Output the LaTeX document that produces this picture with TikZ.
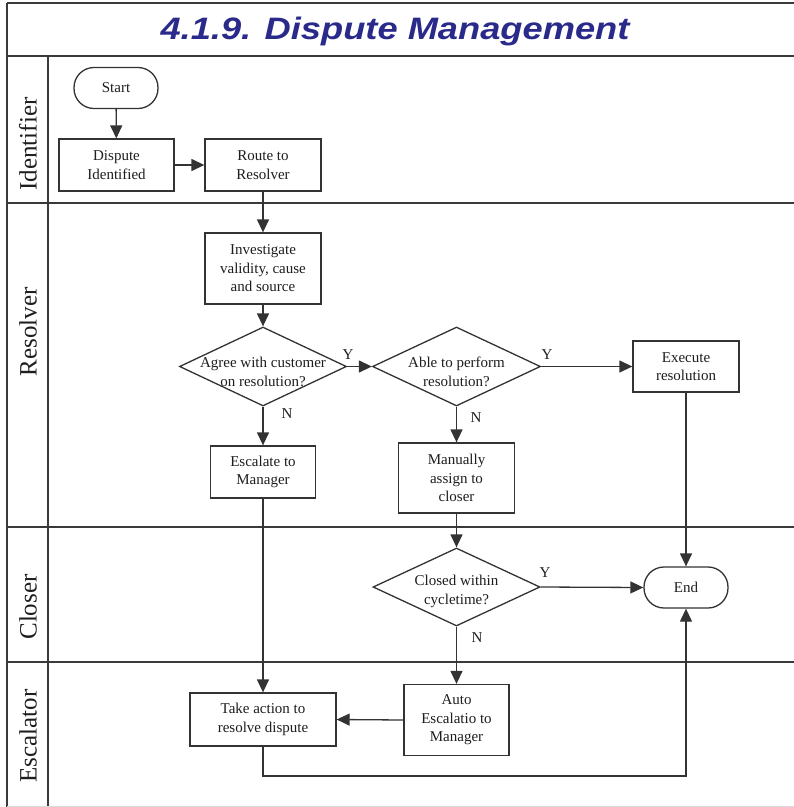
\documentclass[tikz,border=0pt]{standalone}
\usepackage{fontspec}
\setmainfont{Liberation Serif}
\newfontfamily\titlefont{Liberation Sans}
\usetikzlibrary{shapes.geometric,arrows.meta}
\definecolor{titleblue}{HTML}{2A2A8A}
\definecolor{linec}{HTML}{333333}
\definecolor{lanec}{HTML}{3A3A3A}
\definecolor{txtc}{HTML}{1E1E1E}
\begin{document}
\begin{tikzpicture}[x=1pt,y=-1pt,
  lane/.style={draw=lanec, line width=1.5pt},
  box/.style={draw=linec, fill=white, line width=1.3pt, align=center, inner sep=0pt,
    font=\fontsize{15}{18.5}\selectfont, text=txtc},
  term/.style={box, rounded corners=20pt},
  dia/.style={draw=linec, fill=white, line width=1.3pt, shape=diamond, inner sep=0pt},
  diatext/.style={align=center, inner sep=0pt, font=\fontsize{15}{18.5}\selectfont, text=txtc},
  yn/.style={inner sep=0pt, font=\fontsize{15}{18}\selectfont, text=txtc},
  lanelabel/.style={rotate=90, inner sep=0pt, font=\fontsize{25}{25}\selectfont, text=txtc},
  arr/.style={draw=linec, line width=1.3pt, -{Triangle[length=13pt,width=12pt]}},
  conn/.style={draw=linec, line width=1.3pt}
]
\useasboundingbox (0,0) rectangle (794,807);
% frame and lanes
\draw[lane] (7,3) -- (794,3);
\draw[lane] (7,56) -- (794,56);
\draw[lane] (7,3) -- (7,807);
\draw[lane] (48,56) -- (48,807);
\draw[lane] (7,203) -- (794,203);
\draw[lane] (7,527) -- (794,527);
\draw[lane] (7,662) -- (794,662);
\draw[draw=black!15, line width=1pt] (7,806) -- (794,806);
% title
\node[inner sep=0pt, text=titleblue, font=\titlefont\bfseries\itshape\fontsize{31}{31}\selectfont] (title) at (395,31) {\scalebox{1.17}[1]{4.1.9. Dispute Management}};
% lane labels
\node[lanelabel] (l1) at (28,144) {Identifier};
\node[lanelabel] (l2) at (28,332) {Resolver};
\node[lanelabel] (l3) at (28,607) {Closer};
\node[lanelabel] (l4) at (28,736) {Escalator};
% nodes
\node[term, minimum width=84, minimum height=41] (start) at (116,88) {Start};
\node[box, minimum width=115, minimum height=52] (disp) at (116.5,165) {Dispute\\Identified};
\node[box, minimum width=116, minimum height=52] (route) at (263,165) {Route to\\Resolver};
\node[box, minimum width=116, minimum height=71] (inv) at (263,268.5) {Investigate\\validity, cause\\and source};
\node[dia, minimum width=167, minimum height=79] (d1) at (263,366.5) {};
\node[diatext] (d1t) at (263,372) {Agree with customer\\on resolution?};
\node[dia, minimum width=168, minimum height=79] (d2) at (456.5,366.5) {};
\node[diatext] (d2t) at (456.5,372) {Able to perform\\resolution?};
\node[box, minimum width=106, minimum height=51] (exe) at (686,366.5) {Execute\\resolution};
\node[box, minimum width=105, minimum height=52] (esc) at (263,472) {Escalate to\\Manager};
\node[box, minimum width=116, minimum height=70] (man) at (456.5,478) {Manually\\assign to\\closer};
\node[dia, minimum width=167, minimum height=78] (d3) at (456.5,587) {};
\node[diatext] (d3t) at (456.5,591.5) {Closed within\\cycletime?};
\node[term, minimum width=84, minimum height=41] (end) at (686,587.5) {End};
\node[box, minimum width=146, minimum height=53] (take) at (263,719.5) {Take action to\\resolve dispute};
\node[box, minimum width=105, minimum height=71] (auto) at (456.5,720) {Auto\\Escalatio to\\Manager};
% labels
\node[yn] (y1) at (348,355) {Y};
\node[yn] (y2) at (547,355) {Y};
\node[yn] (y3) at (545,573) {Y};
\node[yn] (n1) at (287,414) {N};
\node[yn] (n2) at (476,418) {N};
\node[yn] (n3) at (477,638) {N};
% connectors
\draw[arr] (start) -- (disp);
\draw[arr] (disp) -- (route);
\draw[arr] (route) -- (inv);
\draw[arr] (inv) -- (d1);
\draw[arr] (d1.east) -- (d2.west);
\draw[arr] (d2.east) -- (exe.west);
\draw[arr] (d1.south) -- (esc.north);
\draw[arr] (d2.south) -- (man.north);
\draw[arr] (man.south) -- (d3.north);
\draw[arr] (d3.east) -- (end.west);
\draw[arr] (exe.south) -- (end.north);
\draw[arr] (d3.south) -- (auto.north);
\draw[arr] (esc.south) -- (take.north);
\draw[arr] (auto.west) -- (take.east);
\coordinate (bend) at (263,776);
\draw[arr] (take.south) -- (bend) -| (end.south);
\end{tikzpicture}
\end{document}
